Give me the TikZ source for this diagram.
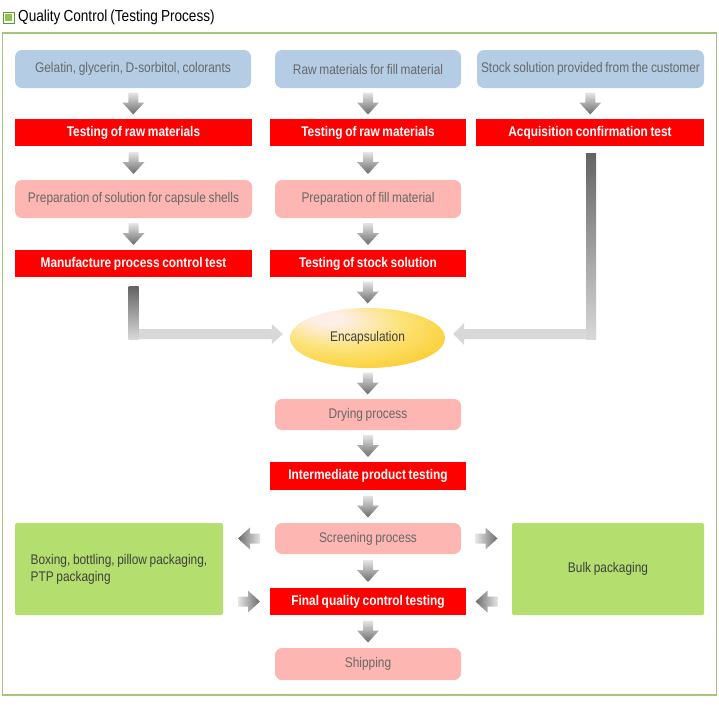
\documentclass[tikz,border=0pt]{standalone}
\usepackage{fontspec}
\setmainfont{Liberation Sans}[FakeStretch=0.85, WordSpace=0.8]
\usetikzlibrary{calc,shapes.geometric}
\definecolor{bluebox}{HTML}{B4CCE4}
\definecolor{pinkbox}{HTML}{FDB6B1}
\definecolor{redbox}{HTML}{FF0000}
\definecolor{greenbox}{HTML}{B4DF6E}
\definecolor{framegreen}{HTML}{A3C67A}
\definecolor{icondark}{HTML}{5E9A2E}
\definecolor{iconfill}{HTML}{8DC44E}
\definecolor{txtgray}{HTML}{686868}
\definecolor{txtdark}{HTML}{404040}
\definecolor{arrlight}{HTML}{E6E6E6}
\definecolor{arrdark}{HTML}{6A6A6A}
\definecolor{ldark}{HTML}{636363}
\definecolor{llight}{HTML}{D8D8D8}
\definecolor{eggpale}{HTML}{FDEEE8}
\definecolor{eggmid}{HTML}{FCE37A}
\definecolor{egggold}{HTML}{FBC91F}
\pgfdeclareradialshading{eggshade}{\pgfpoint{-14bp}{18bp}}{%
  color(0bp)=(eggpale); color(5bp)=(eggpale); color(20bp)=(eggmid); color(40bp)=(egggold); color(60bp)=(egggold)}
\tikzset{
  box/.style={rectangle, inner sep=0pt, font=\fontsize{14}{16}\selectfont},
  bluestep/.style={box, fill=bluebox, rounded corners=7pt, minimum height=38pt, text=txtgray},
  pinkstep/.style={box, fill=pinkbox, rounded corners=7pt, text=txtgray},
  redstep/.style={box, fill=redbox, minimum height=27pt, text=white, font=\fontsize{14}{16}\selectfont\bfseries},
  greenstep/.style={box, fill=greenbox, rounded corners=2pt, minimum height=92pt, text=txtdark},
}
\newcommand\DArr[2]{%
  \coordinate (tmpa) at ($(#1.south)!0.5!(#2.north)$);
  \path[top color=arrlight, bottom color=arrdark] ([shift={(-5,-11)}]tmpa) -- ++(10,0) -- ++(0,10) -- ++(6,0) -- ++(-11,12) -- ++(-11,-12) -- ++(6,0) -- cycle;}
\newcommand\RArr[3]{%
  \coordinate (tmpa) at ($(#1.east)!0.5!(#2.west)$);
  \coordinate (tmpb) at (tmpa |- #3);
  \path[left color=arrlight, right color=arrdark] ([shift={(-11,-5)}]tmpb) -- ++(10,0) -- ++(0,-6) -- ++(12,11) -- ++(-12,11) -- ++(0,-6) -- ++(-10,0) -- cycle;}
\newcommand\LArr[3]{%
  \coordinate (tmpa) at ($(#1.east)!0.5!(#2.west)$);
  \coordinate (tmpb) at (tmpa |- #3);
  \path[left color=arrdark, right color=arrlight] ([shift={(11,-5)}]tmpb) -- ++(-10,0) -- ++(0,-6) -- ++(-12,11) -- ++(12,11) -- ++(0,-6) -- ++(10,0) -- cycle;}
\begin{document}
\begin{tikzpicture}[x=1pt,y=-1pt]
\useasboundingbox (0,0) rectangle (719,713);
% title
\path[draw=icondark, line width=0.8pt, fill=white] (3,12) rectangle (14,23);
\path[fill=iconfill] (4.8,13.8) rectangle (12.2,21.2);
\node (title) [anchor=west, inner sep=0pt, font=\fontsize{16}{18}\selectfont] at (18,17.5) {Quality Control (Testing Process)};
% frame
\path[draw=framegreen, line width=1.3pt] (2.5,33) rectangle (716.5,695);
% top row
\node (b1) [bluestep, minimum width=236pt] at (133,69) {Gelatin, glycerin, D-sorbitol, colorants};
\node (b2) [bluestep, minimum width=186pt] at (368,69) {Raw materials for fill material};
\node (b3) [bluestep, minimum width=227pt] at (590.5,69) {Stock solution provided from the customer};
\node (r1) [redstep, minimum width=237pt] at (133.5,132.5) {Testing of raw materials};
\node (r2) [redstep, minimum width=196pt] at (368,132.5) {Testing of raw materials};
\node (r3) [redstep, minimum width=228pt] at (590,132.5) {Acquisition confirmation test};
\node (p1) [pinkstep, minimum width=237pt, minimum height=38pt] at (133.5,199) {Preparation of solution for capsule shells};
\node (p2) [pinkstep, minimum width=186pt, minimum height=38pt] at (368,199) {Preparation of fill material};
\node (m1) [redstep, minimum width=237pt] at (133.5,263.5) {Manufacture process control test};
\node (m2) [redstep, minimum width=196pt] at (368,263.5) {Testing of stock solution};
\node (enc) [ellipse, inner sep=0pt, minimum width=155pt, minimum height=60pt, shading=eggshade, text=txtdark, font=\fontsize{14}{16}\selectfont] at (367.5,338) {Encapsulation};
\node (dry) [pinkstep, minimum width=186pt, minimum height=31pt] at (368,414.5) {Drying process};
\node (inter) [redstep, minimum width=196pt, minimum height=28pt] at (368,476) {Intermediate product testing};
\node (scr) [pinkstep, minimum width=186pt, minimum height=31pt] at (368,538.5) {Screening process};
\node (fin) [redstep, minimum width=196pt] at (368,601.5) {Final quality control testing};
\node (ship) [pinkstep, minimum width=186pt, minimum height=32pt] at (368,664) {Shipping};
\node (gl) [greenstep, minimum width=208pt, align=left, font=\fontsize{14}{17}\selectfont] at (119,569) {Boxing, bottling, pillow packaging,\\PTP packaging};
\node (gr) [greenstep, minimum width=192pt] at (608,569) {Bulk packaging};
% down arrows
\DArr{b1}{r1}
\DArr{r1}{p1}
\DArr{p1}{m1}
\DArr{b2}{r2}
\DArr{r2}{p2}
\DArr{p2}{m2}
\DArr{m2}{enc}
\DArr{enc}{dry}
\DArr{dry}{inter}
\DArr{inter}{scr}
\DArr{scr}{fin}
\DArr{fin}{ship}
\DArr{b3}{r3}
% side arrows
\LArr{gl}{scr}{scr}
\RArr{gl}{scr}{fin}
\RArr{scr}{gr}{scr}
\LArr{scr}{gr}{fin}
% L arrow left
\coordinate (c1top) at ($(m1.south)+(0,9)$);
\coordinate (c1tip) at ($(enc.west)+(-7,-4)$);
\coordinate (c1corner) at (c1top |- c1tip);
\path[fill=llight] ($(c1corner)+(-5,-5)$) -- ($(c1tip)+(-11,-5)$) -- ($(c1tip)+(-11,-10)$) -- (c1tip) -- ($(c1tip)+(-11,10)$) -- ($(c1tip)+(-11,5)$) -- ($(c1corner)+(-5,5)$) -- cycle;
\path[top color=ldark, bottom color=llight] ($(c1top)+(-5,0)$) rectangle ($(c1corner)+(5,5)$);
% L arrow right
\coordinate (c3top) at ($(r3.south)+(1,7)$);
\coordinate (c3tip) at ($(enc.east)+(8,-4)$);
\coordinate (c3corner) at (c3top |- c3tip);
\path[fill=llight] ($(c3corner)+(5,-5)$) -- ($(c3tip)+(11,-5)$) -- ($(c3tip)+(11,-11)$) -- (c3tip) -- ($(c3tip)+(11,11)$) -- ($(c3tip)+(11,5)$) -- ($(c3corner)+(5,5)$) -- cycle;
\path[top color=ldark, bottom color=llight] ($(c3top)+(-5,0)$) rectangle ($(c3corner)+(5,5)$);
\end{tikzpicture}
\end{document}
